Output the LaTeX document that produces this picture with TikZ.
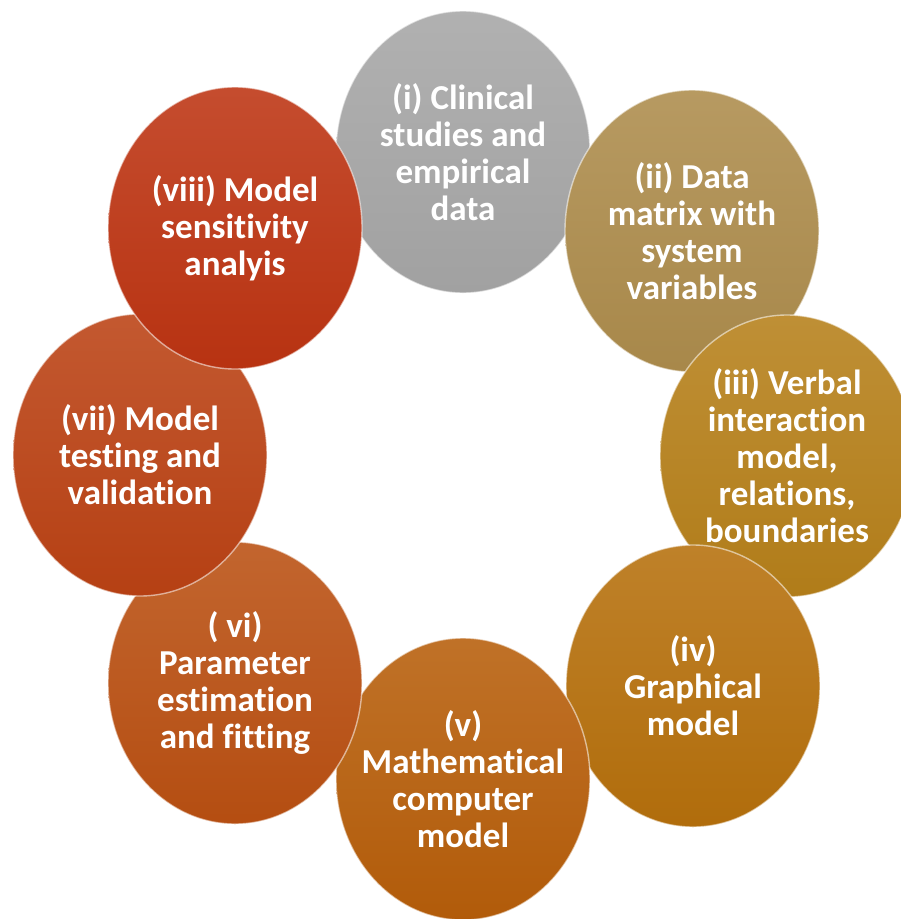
\documentclass[tikz,border=0pt]{standalone}
\usepackage{fontspec}
\setmainfont{Carlito}[Ligatures=NoCommon]
\usetikzlibrary{shapes.geometric,positioning,shadings}

\definecolor{stepi}{HTML}{A6A6A6}
\definecolor{stepii}{HTML}{AD8C4C}
\definecolor{stepiii}{HTML}{B6801A}
\definecolor{stepiv}{HTML}{B6700C}
\definecolor{stepv}{HTML}{B75E0A}
\definecolor{stepvi}{HTML}{BA5012}
\definecolor{stepvii}{HTML}{BB4214}
\definecolor{stepviii}{HTML}{BD3412}

\tikzset{
	disc/.style={ellipse, inner sep=0pt, minimum width=254pt, minimum height=282pt,
		top color=#1!88!white, bottom color=#1!97!black,
		draw=white, draw opacity=.55, line width=1.4pt},
	disctext/.style={text=white, align=center, inner sep=0pt,
		font=\bfseries\fontsize{35}{37}\selectfont}
}

\begin{document}
\begin{tikzpicture}[x=1pt,y=-1pt]
	\useasboundingbox (0,0) rectangle (901,919);
	
	\node[disc=stepi] (c1) at (463,152) {};
	\node[disctext] (t1) at (c1) {(i) Clinical\\studies and\\empirical\\data};
	
	\node[disc=stepii] (c2) at (692,231) {};
	\node[disctext] (t2) at (c2) {(ii) Data\\matrix with\\system\\variables};
	
	\node[disc=stepiii] (c3) at (787,456) {};
	\node[disctext] (t3) at (c3) {(iii) Verbal\\interaction\\model,\\relations,\\boundaries};
	
	\node[disc=stepiv] (c4) at (693,686) {};
	\node[disctext] (t4) at (c4) {(iv)\\Graphical\\model};
	
	\node[disc=stepv] (c5) at (463,779) {};
	\node[disctext] (t5) at (c5) {(v)\\Mathematical\\computer\\model};
	
	\node[disc=stepvi] (c6) at (235,683) {};
	\node[disctext] (t6) at (c6) {( vi)\\Parameter\\estimation\\and fitting};
	
	\node[disc=stepvii] (c7) at (140,455) {};
	\node[disctext] (t7) at (c7) {(vii) Model\\testing and\\validation};
	
	\node[disc=stepviii] (c8) at (235,228) {};
	\node[disctext] (t8) at (c8) {(viii) Model\\sensitivity\\analyis};
\end{tikzpicture}
\end{document}
